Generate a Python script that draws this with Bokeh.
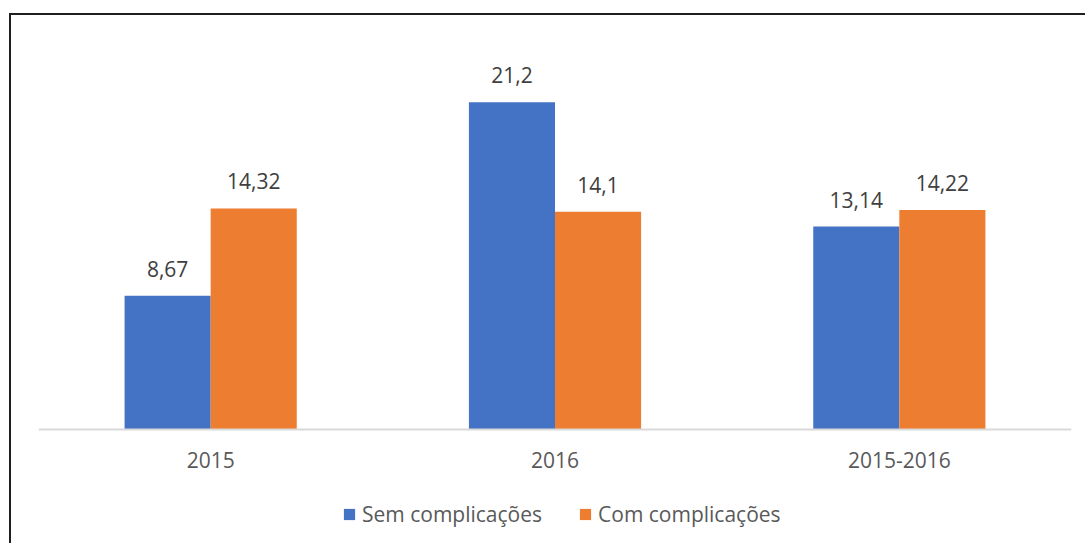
from bokeh.plotting import figure
from bokeh.models import ColumnDataSource, FactorRange, Range1d, LabelSet, Legend, LegendItem
from bokeh.core.properties import value
from bokeh.transform import dodge
from bokeh.embed import file_html
from bokeh.resources import INLINE

# ---- data ----
categories = ["2015", "2016", "2015-2016"]
sem_complicacoes = [8.67, 21.2, 13.14]
com_complicacoes = [14.32, 14.1, 14.22]
series_names = ["Sem complicações", "Com complicações"]


def fmt(v):
    return f"{v:g}".replace(".", ",")


src = ColumnDataSource(dict(
    cat=categories,
    sem=sem_complicacoes,
    com=com_complicacoes,
    sem_lbl=[fmt(v) for v in sem_complicacoes],
    com_lbl=[fmt(v) for v in com_complicacoes],
))

FONT = "Open Sans"
BLUE = "#4472C4"
ORANGE = "#ED7D31"

# frame spans the whole lower area; the value axis 0..25 keeps the Excel scale,
# the space below 0 holds the category labels and the legend
p = figure(
    x_range=FactorRange(factors=categories),
    y_range=Range1d(-7.19, 25),
    width=1076, height=530,
    output_backend="svg", toolbar_location=None,
    min_border_left=27, min_border_right=16,
    min_border_top=28, min_border_bottom=5,
)
p.styles = {
    "margin-left": "9px", "margin-top": "13px",
    "border-left": "2px solid #1f1f1f", "border-top": "2px solid #1f1f1f",
}
p.outline_line_color = None
p.grid.visible = False
p.yaxis.visible = False

r1 = p.vbar(x=dodge("cat", -0.125, range=p.x_range), top="sem", width=0.25,
            source=src, fill_color=BLUE, line_color=None)
r2 = p.vbar(x=dodge("cat", 0.125, range=p.x_range), top="com", width=0.25,
            source=src, fill_color=ORANGE, line_color=None)

for xoff, col, lbl in [(-0.125, "sem", "sem_lbl"), (0.125, "com", "com_lbl")]:
    ls = LabelSet(x=dodge("cat", xoff, range=p.x_range), y=col, text=lbl, source=src,
                  text_align="center", text_baseline="alphabetic", y_offset=19,
                  text_font=value(FONT), text_font_size=value("21px"),
                  text_color=value("#404040"))
    p.add_layout(ls)

ax = p.xaxis[0]
ax.fixed_location = 0
ax.axis_line_color = "#D9D9D9"
ax.axis_line_width = 2
ax.major_tick_line_color = None
ax.minor_tick_line_color = None
ax.major_label_text_font = FONT
ax.major_label_text_font_size = "21px"
ax.major_label_text_color = "#595959"
ax.major_label_standoff = 17

legend = Legend(
    items=[LegendItem(label=series_names[0], renderers=[r1]),
           LegendItem(label=series_names[1], renderers=[r2])],
    orientation="horizontal", location=(304, 12),
    padding=0, margin=0, spacing=36,
    glyph_width=14, glyph_height=14, label_standoff=6,
    label_text_font=FONT, label_text_font_size="21px", label_text_color="#595959",
    border_line_color=None, background_fill_alpha=0,
)
p.add_layout(legend, "center")

open("out.html", "w").write(file_html(p, INLINE))
